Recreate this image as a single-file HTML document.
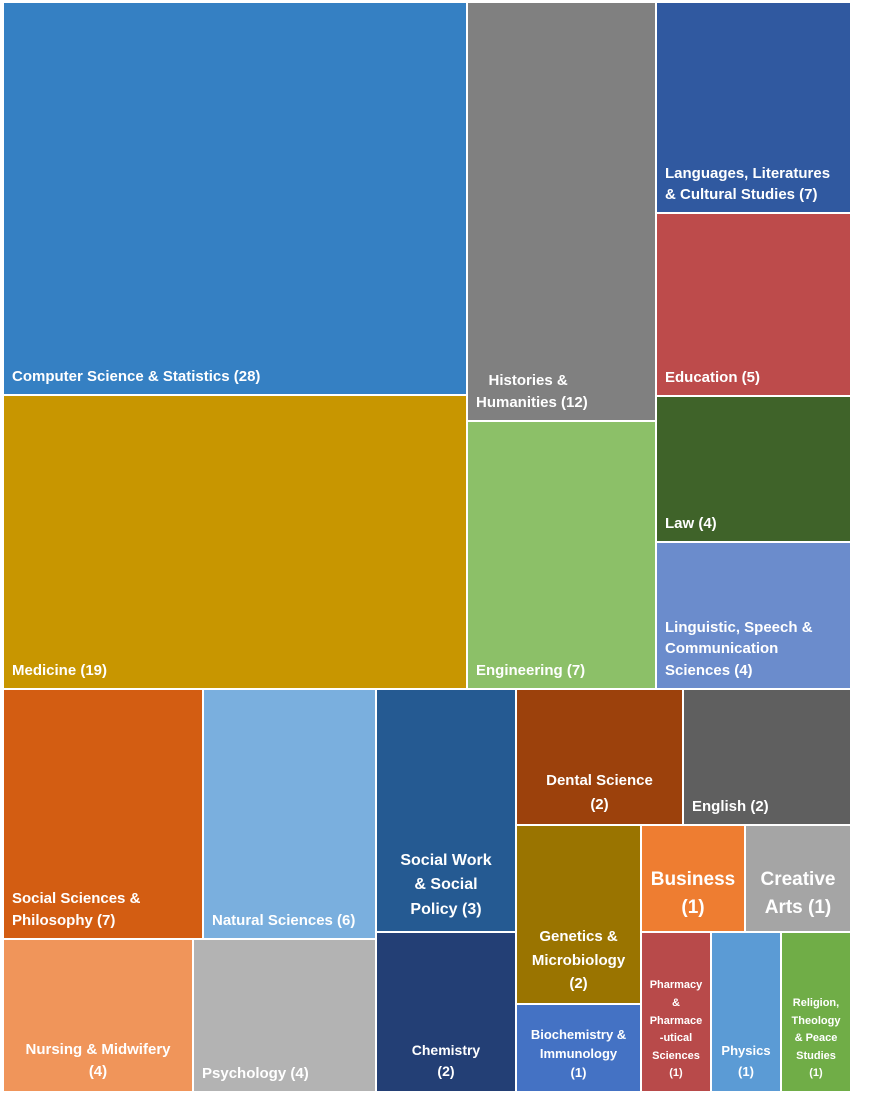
<!DOCTYPE html>
<html><head><meta charset="utf-8">
<style>
html,body{margin:0;padding:0;background:#fff;}
#chart{position:relative;width:871px;height:1117px;overflow:hidden;font-family:"Liberation Sans",Arial,sans-serif;}
.cell{position:absolute;box-sizing:border-box;border:1px solid #fff;display:flex;flex-direction:column;color:#fff;font-weight:bold;line-height:1.45;}
.bl{justify-content:flex-end;align-items:flex-start;text-align:left;padding:0 8px 6px 8px;}
.bc{justify-content:flex-end;align-items:center;text-align:center;padding:0 2px 8px 2px;}
.c{justify-content:center;align-items:center;text-align:center;padding:0 2px;}
</style></head>
<body>
<div id="chart"></div>
<script>
// ---- data ----
const categories = ["Computer Science & Statistics","Medicine","Histories & Humanities","Engineering","Languages, Literatures & Cultural Studies","Education","Law","Linguistic, Speech & Communication Sciences","Social Sciences & Philosophy","Natural Sciences","Nursing & Midwifery","Psychology","Social Work & Social Policy","Chemistry","Dental Science","English","Genetics & Microbiology","Biochemistry & Immunology","Business","Creative Arts","Pharmacy & Pharmaceutical Sciences","Physics","Religion, Theology & Peace Studies"];
const values = [28,19,12,7,7,5,4,4,7,6,4,4,3,2,2,2,2,1,1,1,1,1,1];
const labels = ["Computer Science & Statistics (28)","Medicine (19)","&nbsp;&nbsp;&nbsp;Histories &amp;<br>Humanities (12)","Engineering (7)","Languages, Literatures<br>& Cultural Studies (7)","Education (5)","Law (4)","Linguistic, Speech &<br>Communication<br>Sciences (4)","Social Sciences &<br>Philosophy (7)","Natural Sciences (6)","Nursing & Midwifery<br>(4)","Psychology (4)","Social Work<br>& Social<br>Policy (3)","Chemistry<br>(2)","Dental Science<br>(2)","English (2)","Genetics &<br>Microbiology<br>(2)","Biochemistry &<br>Immunology<br>(1)","Business<br>(1)","Creative<br>Arts (1)","Pharmacy<br>&<br>Pharmace<br>-utical<br>Sciences<br>(1)","Physics<br>(1)","Religion,<br>Theology<br>& Peace<br>Studies<br>(1)"];
// ---- styles (separate from data) ----
const colors = ["#3580c3","#c89600","#808080","#8cc068","#3059a0","#bd4b4b","#3f6329","#6b8ccc","#d35d12","#7aafde","#f0955a","#b3b3b3","#255a92","#233f75","#9c410c","#5f5f5f","#9a7400","#4472c4","#ee7d31","#a5a5a5","#b84a4a","#5b9bd5","#70ad47"];
const align = ["bl","bl","bl","bl","bl","bl","bl","bl","bl","bl","bc","bl","bc","bc","bc","bl","bc","bc","bc","bc","bc","bc","bc"];
const fsize = [15,15,15,15,15,15,15,15,15,15,15,15,16,14,15,15,15,13,19,19,11,13,11];
const lheight = [1.45,1.45,1.45,1.45,1.45,1.45,1.45,1.45,1.45,1.45,1.45,1.45,1.55,1.55,1.55,1.45,1.55,1.45,1.5,1.5,1.6,1.6,1.6];
// visual area per unit, matching reference tile proportions
const areaScale = [6513,7180,6599,7236,5878,7137,7118,7166,7143,7208,7268,7000,11340,11200,11356,11424,11188,11000,11128,11342,11200,11200,11200];
// ---- hierarchy (indices into data arrays) ----
const tree = {d:"v",k:[
 {d:"h",k:[{d:"v",k:[0,1]},{d:"v",k:[2,3]},{d:"v",k:[4,5,6,7]}]},
 {d:"h",k:[
   {d:"v",k:[{d:"h",k:[8,9]},{d:"h",k:[10,11]}]},
   {d:"h",k:[{d:"v",k:[12,13]},
     {d:"v",k:[{d:"h",k:[14,15]},
       {d:"h",k:[{d:"v",k:[16,17]},{d:"v",k:[{d:"h",k:[18,19]},{d:"h",k:[20,21,22]}]}]}]}]}]}]};
function total(n){return typeof n==="number"?values[n]*areaScale[n]:n.k.reduce((s,c)=>s+total(c),0);}
const chart=document.getElementById('chart');
function layout(n,x,y,w,h){
  if(typeof n==="number"){
    const el=document.createElement('div');
    el.className='cell '+align[n];
    el.style.left=x+'px';el.style.top=y+'px';el.style.width=w+'px';el.style.height=h+'px';
    el.style.background=colors[n];el.style.fontSize=fsize[n]+'px';el.style.lineHeight=lheight[n];
    el.innerHTML='<span>'+labels[n]+'</span>';
    
    
    chart.appendChild(el);return;
  }
  const T=total(n);let off=0;
  n.k.forEach(c=>{const f=total(c)/T;
    if(n.d==="h"){layout(c,x+off,y,w*f,h);off+=w*f;}
    else{layout(c,x,y+off,w,h*f);off+=h*f;}
  });
}
layout(tree,3,2,848,1090);
</script>
</body></html>
